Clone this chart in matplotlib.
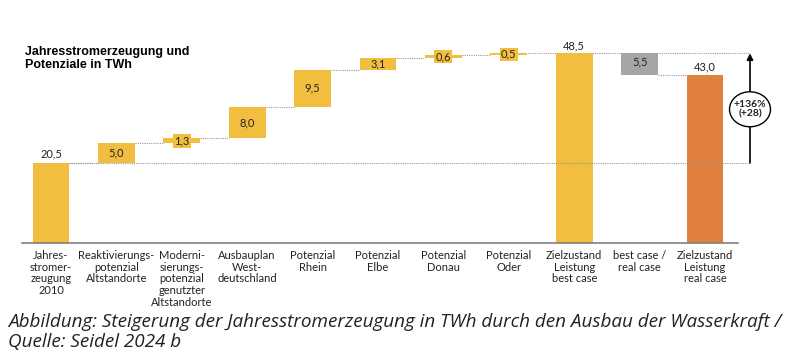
import numpy as np
import matplotlib.pyplot as plt
from matplotlib.patches import Ellipse

# Daten (TWh)
kategorien = ["Jahres-\nstromer-\nzeugung\n2010", "Reaktivierungs-\npotenzial\nAltstandorte",
              "Moderni-\nsierungs-\npotenzial\ngenutzter\nAltstandorte", "Ausbauplan\nWest-\ndeutschland",
              "Potenzial\nRhein", "Potenzial\nElbe", "Potenzial\nDonau", "Potenzial\nOder",
              "Zielzustand\nLeistung\nbest case", "best case /\nreal case", "Zielzustand\nLeistung\nreal case"]
start = 20.5
zuwachs = [5.0, 1.3, 8.0, 9.5, 3.1, 0.6, 0.5]
best_case = 48.5
abzug = 5.5
real_case = 43.0
zuwachs_text = "+136%\n(+28)"

gelb = "#F2BE40"
orange = "#E08140"
grau = "#A6A6A6"
textfarbe = "#222222"
schrift = "Lato"

fig = plt.figure(figsize=(7.97, 3.61), dpi=100)
ax = fig.add_axes([0, (361 - 243) / 361, 1, 213 / 361])
px = 65.4
ax.set_xlim(-51 / px, (797 - 51) / px)
ax.set_ylim(0, 213 / 3.91)
for s in ["top", "right", "left"]:
    ax.spines[s].set_visible(False)
ax.spines["bottom"].set_bounds(-29 / px, 10.5)
ax.spines["bottom"].set_color("#808080")
ax.spines["bottom"].set_linewidth(1.2)
ax.set_yticks([])
ax.set_xticks([])

b = 0.56
lab = dict(ha="center", va="center", fontsize=8, color=textfarbe, family=schrift)
oben = dict(ha="center", va="bottom", fontsize=8, color=textfarbe, family=schrift)

# Startbalken
ax.bar(0, start, width=b, color=gelb)
ax.text(0, start + 1.0, "20,5", **oben)

# Zuwaechse
basis = start
for i, z in enumerate(zuwachs, start=1):
    ax.bar(i, z, bottom=basis, width=b, color=gelb)
    t = ("%.1f" % z).replace(".", ",")
    if z < 2:
        ax.text(i, basis + z / 2, t, bbox=dict(boxstyle="square,pad=0.12", fc=gelb, ec="none"), **lab)
    else:
        ax.text(i, basis + z / 2, t, **lab)
    ax.plot([i - 1 + b / 2, i - b / 2], [basis, basis], ls=(0, (1, 1)), color="#999999", lw=0.8)
    basis = basis + z

# best case
ax.bar(8, best_case, width=b, color=gelb)
ax.text(8, best_case + 0.5, "48,5", **oben)
# best case / real case
ax.bar(9, abzug, bottom=real_case, width=b, color=grau)
ax.text(9, real_case + abzug / 2 + 0.5, "5,5", **lab)
# real case
ax.bar(10, real_case, width=b, color=orange)
ax.text(10, real_case + 0.5, "43,0", **oben)

# Hilfslinien
xr = (750 - 51) / px
ax.plot([b / 2, xr], [start, start], ls=(0, (1, 1)), color="#999999", lw=0.8, zorder=3)
ax.plot([7 - b / 2, xr], [best_case, best_case], ls=(0, (1, 1)), color="#999999", lw=0.8, zorder=0)
ax.plot([9 + b / 2, 10 - b / 2], [real_case, real_case], ls=(0, (1, 1)), color="#999999", lw=0.8)

# Pfeil
ax.annotate("", xy=(xr, best_case), xytext=(xr, start),
            arrowprops=dict(arrowstyle="-|>", color="black", lw=1.2, mutation_scale=9, shrinkA=0, shrinkB=0))
ax.add_patch(Ellipse((xr, 34.2), 41 / px, 35 / 3.91, fc="white", ec="black", lw=1, zorder=4))
ax.text(xr, 34.2, zuwachs_text, ha="center", va="center", fontsize=7.5, fontweight="bold",
        color=textfarbe, family=schrift, zorder=5, linespacing=1.15)

# Kategorien
for i, k in enumerate(kategorien):
    ax.text(i, -1.8, k, ha="center", va="top", fontsize=8, color=textfarbe,
            family=schrift, linespacing=1.08)

# Titel
fig.text(25 / 797, 1 - 46 / 361, "Jahresstromerzeugung und\nPotenziale in TWh", ha="left", va="top",
         fontsize=9, fontweight="bold", family="Liberation Sans", linespacing=1.15)

# Bildunterschrift
fig.text(8 / 797, 1 - 313 / 361,
         "Abbildung: Steigerung der Jahresstromerzeugung in TWh durch den Ausbau der Wasserkraft /\nQuelle: Seidel 2024 b",
         ha="left", va="top", fontsize=13.6, style="italic", family="Open Sans",
         color="#222222", linespacing=1.15)

fig.savefig("out.png", dpi=100)
